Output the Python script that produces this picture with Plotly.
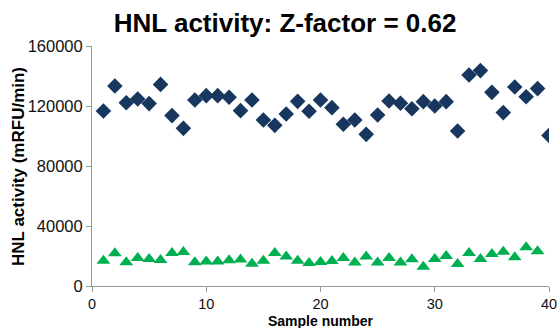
import plotly.graph_objects as go

samples_blue = list(range(1, 41))
blue_values = [116700, 133300, 122200, 124700, 121600, 134400, 113600, 105100, 124000, 126900,
               126900, 125800, 116900, 124000, 110700, 107100, 114700, 123100, 116500, 124000,
               118900, 107800, 110700, 101100, 114000, 123300, 121800, 118200, 122900, 120000,
               122900, 103300, 140700, 143600, 129100, 115600, 132700, 126200, 131600, 100400]

samples_green = list(range(1, 40))
green_values = [16900, 21800, 15800, 18700, 18000, 17300, 22000, 22700, 15800, 16400,
                16400, 17100, 17600, 14900, 16900, 22000, 19600, 16900, 15400, 16000,
                16700, 18700, 15600, 19600, 15600, 18700, 15600, 17800, 12900, 18000,
                20000, 14700, 22000, 18000, 21300, 22900, 19100, 25800, 23100]

x_ticks = [0, 10, 20, 30, 40]
y_ticks = [0, 40000, 80000, 120000, 160000]
y_tick_labels = ["0", "40000", "80000", "120000", "160000"]

FONT = "Liberation Sans"

fig = go.Figure()
fig.add_trace(go.Scatter(x=samples_blue, y=blue_values, mode="markers",
                         marker=dict(symbol="diamond", size=12, color="#17375E"),
                         showlegend=False))
fig.add_trace(go.Scatter(x=samples_green, y=green_values, mode="markers",
                         marker=dict(symbol="triangle-up", size=12, color="#00B050"),
                         showlegend=False))

fig.update_layout(
    width=559, height=328,
    margin=dict(l=92, r=10, t=46, b=42),
    paper_bgcolor="white", plot_bgcolor="white",
    title=dict(text="<b>HNL activity: Z-factor = 0.62</b>", x=0.51, xanchor="center",
               y=0.93, yanchor="middle",
               font=dict(family=FONT, size=26, color="#000")),
    xaxis=dict(range=[0, 40], tickvals=x_ticks, ticks="outside", ticklen=5,
               tickcolor="#999", showline=True, linecolor="#999", linewidth=1,
               showgrid=False, zeroline=False, automargin=False,
               tickfont=dict(family=FONT, size=14.5, color="#111"), ticklabelstandoff=0),
    yaxis=dict(range=[0, 160000], tickvals=y_ticks, ticktext=y_tick_labels,
               ticks="outside", ticklen=5, automargin=False,
               tickcolor="#999", showline=True, linecolor="#999", linewidth=1,
               showgrid=False, zeroline=False,
               tickfont=dict(family=FONT, size=16.5, color="#111")),
    annotations=[
        dict(text="<b>Sample number</b>", xref="paper", yref="paper",
             x=0.5, y=-0.1445, xanchor="center", yanchor="middle", showarrow=False,
             font=dict(family=FONT, size=14, color="#000")),
        dict(text="<b>HNL activity (mRFU/min)</b>", xref="paper", yref="paper",
             x=-0.162, y=0.5, xanchor="center", yanchor="middle", showarrow=False,
             textangle=-90, font=dict(family=FONT, size=17, color="#000")),
    ],
)

fig.write_html("out.html")
